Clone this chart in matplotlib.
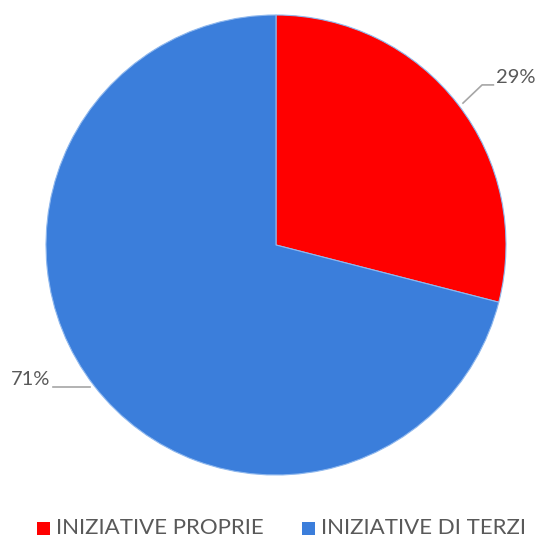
import matplotlib
matplotlib.use("Agg")
import matplotlib.pyplot as plt
from matplotlib.patches import Rectangle

# dati
labels = ["INIZIATIVE PROPRIE", "INIZIATIVE DI TERZI"]
values = [29, 71]
colors = ["#ff0000", "#3b7edb"]
pct_text = ["29%", "71%"]

txt_color = "#595959"
plt.rcParams["font.family"] = ["Lato", "DejaVu Sans"]

W, H = 536, 537
fig = plt.figure(figsize=(W / 100, H / 100), dpi=100)
# pie: centro (276,245) px, raggio 230 px
ax = fig.add_axes([(276 - 230) / W, (H - 475) / H, 460 / W, 460 / H])
ax.pie(values, colors=colors, startangle=90, counterclock=False, radius=1,
       wedgeprops=dict(edgecolor="#8fb8ee", linewidth=0.8))
ax.set_xlim(-1, 1)
ax.set_ylim(-1, 1)
ax.set_aspect("equal")
ax.axis("off")

# etichette con linee guida
ax.plot([0.813, 0.896, 0.945], [0.617, 0.696, 0.696], color="#a6a6a6", lw=1.2,
        clip_on=False)
ax.text(0.957, 0.730, pct_text[0], fontsize=14.5, color=txt_color, ha="left",
        va="center")
ax.plot([-0.970, -0.809], [-0.617, -0.617], color="#a6a6a6", lw=1.2, clip_on=False)
ax.text(-0.983, -0.583, pct_text[1], fontsize=14.5, color=txt_color, ha="right",
        va="center")

# legenda fatta a mano
mark_x = [37, 302]
text_x = [56, 321]
for mx, tx, c, lab in zip(mark_x, text_x, colors, labels):
    fig.patches.append(Rectangle((mx / W, 2 / H), 13 / W, 13 / H, facecolor=c,
                                 edgecolor="none", transform=fig.transFigure))
    fig.text(tx / W, 9 / H, lab, fontsize=16, color=txt_color, ha="left",
             va="center")

fig.savefig("out.png", dpi=100)
